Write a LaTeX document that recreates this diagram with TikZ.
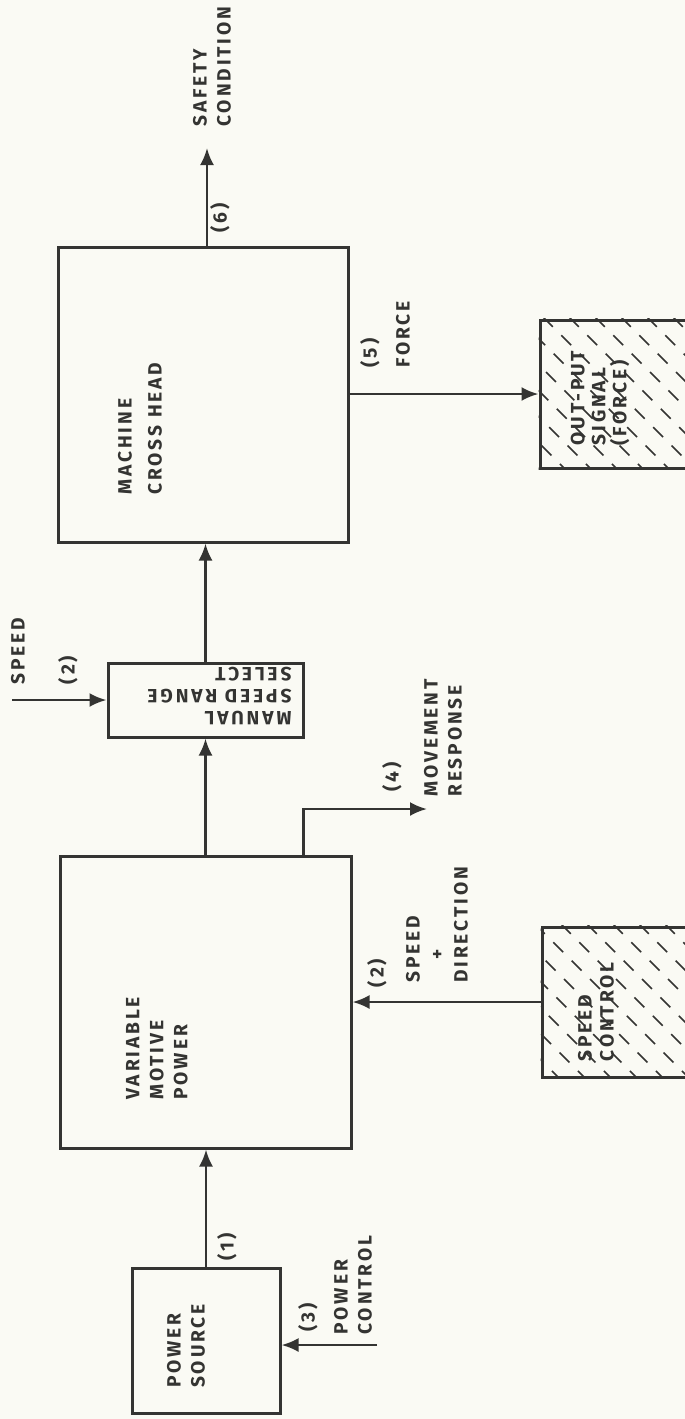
\documentclass[tikz,border=0pt]{standalone}
\usepackage{fontspec}
\newfontfamily\hand[LetterSpace=15]{Fira Sans}
\usetikzlibrary{arrows.meta,calc}
\definecolor{ink}{RGB}{52,52,50}
\definecolor{paper}{RGB}{250,250,244}
\tikzset{
  box/.style={draw=ink,line width=1.5pt,inner sep=0pt},
  conn/.style={draw=ink,line width=1.3pt,-{Latex[length=8.5pt,width=7pt]}},
  txt/.style={text=ink,font=\hand\bfseries\fontsize{9.6}{12}\selectfont,inner sep=0pt,align=left},
  rtxt/.style={txt,rotate=90},
  hatch/.style={draw=ink,line width=0.8pt,dash pattern=on 7pt off 6pt},
}
\begin{document}
\begin{tikzpicture}[x=0.5pt,y=-0.5pt]
\useasboundingbox[fill=paper] (0,0) rectangle (685,1419);

% boxes
\node[box,minimum width=74pt,minimum height=72.5pt] (PS) at (206,1340.5) {};
\node[box,minimum width=145.5pt,minimum height=146pt] (VMP) at (205.5,1002) {};
\node[box,minimum width=97.5pt,minimum height=37pt] (MSR) at (205.5,700) {};
\node[box,minimum width=145pt,minimum height=147.5pt] (MC) at (203,394.5) {};
\node[box,minimum width=95pt,minimum height=74pt] (OS) at (635,394) {};
\node[box,minimum width=94pt,minimum height=75pt] (SC) at (636,1002) {};

% hatching
\begin{scope}
\clip (OS.south west) rectangle (OS.north east);
\foreach \i in {-170,-144,...,200}
  \draw[hatch] ($(OS.north west)+(\i,-20)$) -- ++(220,220);
\end{scope}
\begin{scope}
\clip (SC.south west) rectangle (SC.north east);
\foreach \i in {-180,-154,...,200}
  \draw[hatch] ($(SC.north west)+(\i,-20)$) -- ++(230,230);
\end{scope}

% free ends
\coordinate (pc) at (377,1345);
\coordinate (sp) at (12,700);
\coordinate (out6) at (207,148);
\coordinate (m4) at (427,809);

% connectors
\draw[conn] (PS.north) -- (PS.north |- VMP.south);
\draw[conn] (pc) -- (pc -| PS.east);
\draw[conn] (VMP.north) -- (VMP.north |- MSR.south);
\draw[conn] (MSR.north) -- (MSR.north |- MC.south);
\draw[conn] (sp) -- (MSR.west);
\draw[conn] (out6 |- MC.north) -- (out6);
\draw[conn] (MC.east |- OS.west) -- (OS.west);
\draw[conn] (SC.west) -- (SC.west -| VMP.east);
\draw[conn] ($(VMP.north east)+(-49,0)$) |- (m4);

% texts
\node[rtxt] (tPS) at (186,1346) {POWER\\SOURCE};
\node[rtxt,anchor=west] (tVMP) at (157,1100) {VARIABLE\\MOTIVE\\POWER};
\node[txt,rotate=180,anchor=west,font=\hand\bfseries\fontsize{9.6}{11}\selectfont] (tMSR) at (292,696) {MANUAL\\SPEED RANGE\\SELECT};
\node[rtxt,anchor=west,font=\hand\bfseries\fontsize{9.6}{15}\selectfont] (tMC) at (140,495) {MACHINE\\CROSS HEAD};
\node[rtxt] (l1) at (227,1247) {(1)};
\node[rtxt] (l3) at (308,1317) {(3)};
\node[rtxt,anchor=west] (tPC) at (353,1335) {POWER\\CONTROL};
\node[rtxt] (l2a) at (68,670) {(2)};
\node[rtxt,anchor=west] (tSP) at (18,685) {SPEED};
\node[rtxt] (l6) at (220,218) {(6)};
\node[rtxt,anchor=west] (tSC6) at (212,127) {SAFETY\\CONDITION};
\node[rtxt] (l5) at (370,353) {(5)};
\node[rtxt,anchor=west] (tF) at (403,368) {FORCE};
\node[rtxt] (l4) at (392,777) {(4)};
\node[rtxt,anchor=west] (tMR) at (443,797) {MOVEMENT\\RESPONSE};
\node[rtxt] (l2b) at (377,973) {(2)};
\node[rtxt,anchor=west] (tSD) at (437,983) {SPEED\\\hspace{1.2em}+\\DIRECTION};
\node[rtxt,font=\hand\bfseries\fontsize{9.6}{11}\selectfont] (tSCt) at (596,1012) {SPEED\\CONTROL};
\node[rtxt,font=\hand\bfseries\fontsize{9.6}{10.5}\selectfont] (tOS) at (600,398) {OUT-PUT\\SIGNAL\\(FORCE)};
\end{tikzpicture}
\end{document}
